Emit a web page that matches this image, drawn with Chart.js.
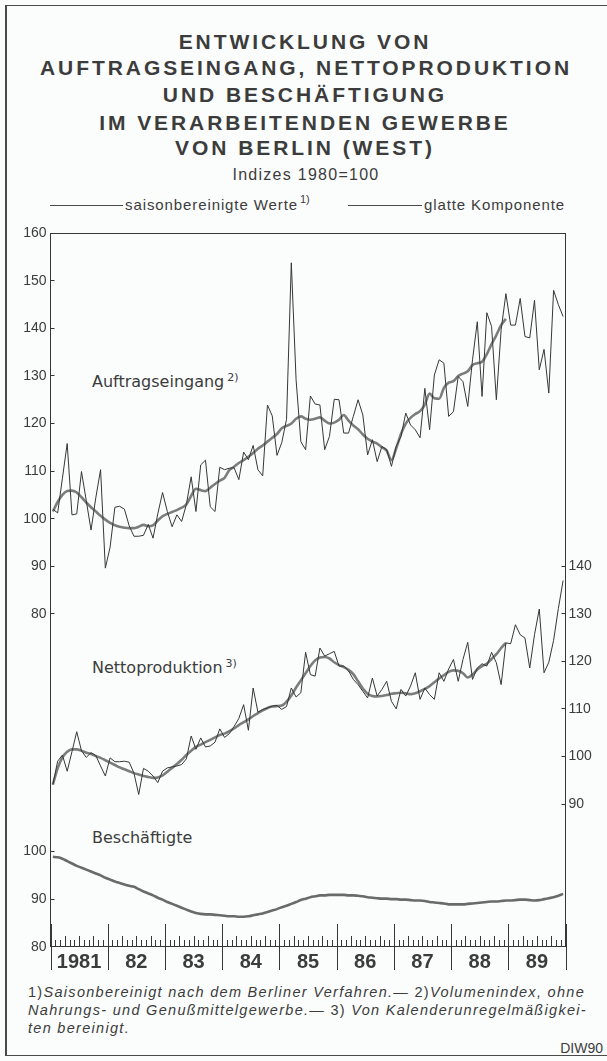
<!DOCTYPE html>
<html><head><meta charset="utf-8">
<script src="https://cdn.jsdelivr.net/npm/chart.js@4.4.0/dist/chart.umd.min.js"></script>
<style>
html,body{margin:0;padding:0;background:#fbfcfc;}
#page{position:relative;width:607px;height:1061px;overflow:hidden;background:#fbfcfc;color:#3c3c3c;font-family:"Liberation Sans",Arial,sans-serif;}
.ln{position:absolute;background:#4a4a4a;}
.t{position:absolute;white-space:nowrap;}
.title{font-weight:bold;font-size:21px;line-height:26px;transform:translateX(-50%);}
.leg{font-size:15px;line-height:18px;}
.ann{font-family:"DejaVu Sans",sans-serif;font-size:16px;line-height:16px;}
.sup{font-size:11px;position:relative;top:-6px;margin-left:3px;font-style:normal;}
.foot{font-style:italic;font-size:14.5px;line-height:18px;left:28px;}
.n{font-style:normal;}
canvas{position:absolute;left:0;top:0;}
</style></head>
<body><div id="page">
<div class="ln" style="left:5px;top:5px;width:1.5px;height:1051px;"></div>
<div class="ln" style="left:5px;top:5px;width:602px;height:1px;"></div>
<div class="ln" style="left:5px;top:1055px;width:602px;height:1px;"></div>

<div class="t title" id="t1" style="left:305px;top:29px;">ENTWICKLUNG VON</div>
<div class="t title" id="t2" style="left:306px;top:55px;">AUFTRAGSEINGANG, NETTOPRODUKTION</div>
<div class="t title" id="t3" style="left:305px;top:82px;">UND BESCHÄFTIGUNG</div>
<div class="t title" id="t4" style="left:305px;top:110px;">IM VERARBEITENDEN GEWERBE</div>
<div class="t title" id="t5" style="left:305px;top:135px;">VON BERLIN (WEST)</div>
<div class="t" id="sub" style="left:306px;top:165px;font-size:16px;line-height:20px;transform:translateX(-50%);">Indizes 1980=100</div>

<div class="ln" style="left:50px;top:205px;width:73px;height:1px;"></div>
<div class="t leg" id="l1" style="left:125px;top:196px;">saisonbereinigte Werte</div>
<div class="t" style="left:300px;top:193px;font-size:11px;">1)</div>
<div class="ln" style="left:348px;top:205px;width:74px;height:1px;"></div>
<div class="t leg" id="l2" style="left:424px;top:196px;">glatte Komponente</div>

<div class="t ann" style="left:92px;top:374px;">Auftragseingang<span class="sup">2)</span></div>
<div class="t ann" style="left:92px;top:660px;">Nettoproduktion<span class="sup">3)</span></div>
<div class="t ann" style="left:92px;top:830px;">Beschäftigte</div>

<div class="t foot" id="f1" style="top:983px;"><span class="n">1)</span>Saisonbereinigt nach dem Berliner Verfahren.— <span class="n">2)</span>Volumenindex, ohne</div>
<div class="t foot" id="f2" style="top:1001px;">Nahrungs- und Genußmittelgewerbe.— <span class="n">3)</span> Von Kalenderunregelmäßigkei-</div>
<div class="t foot" id="f3" style="top:1019px;">ten bereinigt.</div>
<div class="t" style="right:4px;top:1039px;font-size:14px;line-height:18px;">DIW90</div>

<canvas id="c" width="607" height="1061"></canvas>
</div>
<script>
// ---- data (monthly, Jan 1981 .. Dec 1989) ----
const years = ['1981','82','83','84','85','86','87','88','89'];
const leftTicks = [80,90,100,110,120,130,140,150,160];
const rightTicks = [90,100,110,120,130,140];
const beschTicks = [80,90,100];

const auftragRaw = [
 102,101.2,108.5,115.8,100.8,101,109.9,103.8,97.6,104.4,110.3,89.6,
 94,102.4,102.6,102,98.5,96.3,96.3,96.5,98.8,95.9,101,105.5,
 101.5,98.3,100.8,99.4,103,108.8,101.5,111.3,112.3,102.5,101.5,110.8,
 110.3,110.6,110.7,108.2,114,112.4,115.4,110.3,109,123.9,121.6,113.3,
 116,120.9,153.8,129.2,116.2,114.5,125.8,124.1,123.9,114.5,117.3,125.1,
 125,118,118,121.5,125,121.8,113.4,116.6,112,115.2,114.5,111,
 115.2,117.3,122.2,119.7,118.7,117,127.4,118.7,130.2,133.4,132.7,121.5,
 122.5,129.9,128.8,123.6,133.4,141.4,125.7,143.3,140.4,125,139.7,147.3,
 140.7,140.7,146.3,138.3,138,145.9,131.3,135.6,126.4,148,145,142.5];
const auftragGlatt = [
 101.5,103.5,105,105.8,105.9,105.5,104.5,103.4,102.4,101.5,100.6,99.8,
 99.1,98.6,98.3,98.1,98,98,98.3,98.7,98.4,98.6,99.6,100.5,
 101,101.4,101.8,102.3,103,104.8,106.3,106,105.8,106.5,107.3,108,
 108.6,110.2,110.9,111.7,112.3,113,113.8,114.7,115.4,116.2,117,117.8,
 119,119.5,120,121,121.5,121,120.8,121,121.3,120.6,120,120.2,
 120.8,121.8,120.6,119.6,118.8,117.7,116.8,116.2,115.8,115,114.3,112.3,
 114.8,117.8,120,121.2,122,122.6,124,126.3,125.3,125.2,127.5,128.6,
 128.9,130,130.5,131,132.3,132.7,133,134.6,136.7,138.6,140.7,142];
const nettoRaw = [
 94.1,99,100.3,96.9,101,105.2,101.2,99.8,100.8,100.2,98,95.9,
 99.7,98.9,98.9,99,98.8,96.5,92,97.5,96.9,95.9,94.5,96.9,
 97.6,97.8,98,98.3,99.5,104.3,101.5,103.9,102,102.2,103,105.8,
 104,104.8,106.3,108,110.9,105.5,114.4,109.3,109.9,110.2,110.6,110.7,
 109.9,110.5,114.4,112.5,113.4,121.9,117.2,116.9,122.8,121.1,121.6,122.1,
 119,119,118,116.2,115.1,113.7,112.3,116.5,112.7,114.1,115.8,111.6,
 110,114.1,112.7,114.8,117.6,112,114.4,113,112,117.6,115.8,118.4,
 120.4,115.8,120.4,124,116.2,118.6,119.5,119,121.9,119.7,115.1,123.9,
 123.7,127.7,125.6,124.9,118.6,125.6,131,117.6,119.8,124.4,131.1,137];
const nettoGlatt = [
 94.1,97.5,99.8,101,101.5,101.5,101.2,100.8,100.5,100.1,99.7,99.2,
 98.7,98.2,97.7,97.3,96.9,96.5,96.2,95.9,95.7,95.5,95.6,96,
 96.8,97.6,98.4,99.3,100.3,101.2,102,102.5,103,103.5,104,104.5,
 104.8,105.3,105.9,106.6,107.2,107.8,108.5,109.1,109.7,110.2,110.5,110.6,
 110.7,111.5,112.8,114.5,116,117.5,119,120.2,120.8,120.9,120.6,119.8,
 119.2,118.8,118.2,117.3,115.8,114.3,113.2,112.7,112.6,112.7,112.9,113.2,
 113.3,113.4,113.3,113.1,113.3,113.7,114.2,114.8,115.6,116.4,117.1,117.8,
 118.1,118,117.5,116.6,117.2,118.3,119,119.5,120.5,121.5,122.8,123.9];
const beschaeftigte = [
 98.9,98.8,98.5,98,97.5,97,96.6,96.2,95.8,95.4,95,94.5,
 94.1,93.7,93.4,93.1,92.8,92.6,92.1,91.6,91.2,90.8,90.3,89.9,
 89.4,89,88.6,88.2,87.8,87.4,87.1,86.9,86.8,86.8,86.7,86.6,
 86.5,86.4,86.4,86.3,86.3,86.4,86.6,86.8,87,87.3,87.6,87.9,
 88.3,88.6,89,89.4,89.8,90.1,90.4,90.6,90.8,90.8,90.9,90.9,
 90.9,90.9,90.8,90.8,90.7,90.6,90.4,90.3,90.2,90.1,90.1,90,
 90,89.9,89.9,89.8,89.7,89.7,89.6,89.4,89.3,89.2,89.1,88.9,
 88.9,88.9,88.9,89,89.1,89.2,89.3,89.4,89.5,89.5,89.6,89.7,
 89.7,89.8,89.9,89.9,89.8,89.7,89.8,90,90.2,90.4,90.7,91.1];

// ---- text fitting (letter-spacing) ----
function fit(id, w){
  const el=document.getElementById(id); el.style.letterSpacing='0px';
  const w0=el.getBoundingClientRect().width; const n=el.textContent.length;
  const ls=(w-w0)/n; el.style.letterSpacing=ls+'px'; return ls;
}
const tls=fit('t2',532);
['t1','t3','t4','t5'].forEach(id=>{document.getElementById(id).style.letterSpacing=tls+'px';});
fit('sub',147); fit('l1',173); fit('l2',141);
const fls=fit('f1',557);
['f2','f3'].forEach(id=>{document.getElementById(id).style.letterSpacing=fls+'px';});

// ---- chart ----
const pts = arr => arr.map((v,i)=>({x:i+0.5,y:v}));
const INK='#363636', SMOOTH='#7c7c7c';
const CH=1061, BOTTOM=946.7, TOP=233.3, LEFT=50.5, RIGHT=565.5;

const decor={id:'decor',
 afterLayout(chart){ const s=chart.scales.yB; if(s){ s.left=0; } },
 afterDraw(chart){
  const {ctx,chartArea:a,scales:{x}}=chart;
  ctx.save(); ctx.strokeStyle=INK; ctx.lineWidth=1;
  ctx.beginPath(); ctx.moveTo(a.left,Math.round(a.top)+0.5); ctx.lineTo(a.right,Math.round(a.top)+0.5); ctx.stroke();
  const yb=Math.round(a.bottom);
  for(let m=0;m<=108;m++){
    const px=Math.round(x.getPixelForValue(m))+0.5;
    let y1,y2;
    if(m%12===0){y1=yb-23;y2=yb+23;}
    else if(m%3===0){y1=yb-11;y2=yb;}
    else {y1=yb-7;y2=yb;}
    ctx.beginPath(); ctx.moveTo(px,y1); ctx.lineTo(px,y2); ctx.stroke();
  }
  ctx.restore();
}};

const yTicksFont={family:"'Liberation Sans',Arial,sans-serif",size:14};
new Chart(document.getElementById('c'),{
  type:'line',
  data:{datasets:[
    {data:pts(auftragRaw),yAxisID:'yA',borderColor:INK,borderWidth:1,pointRadius:0,tension:0},
    {data:pts(auftragGlatt),yAxisID:'yA',borderColor:SMOOTH,borderWidth:2.6,pointRadius:0,cubicInterpolationMode:'monotone'},
    {data:pts(nettoRaw),yAxisID:'yN',borderColor:INK,borderWidth:1,pointRadius:0,tension:0},
    {data:pts(nettoGlatt),yAxisID:'yN',borderColor:SMOOTH,borderWidth:2.6,pointRadius:0,cubicInterpolationMode:'monotone'},
    {data:pts(beschaeftigte),yAxisID:'yB',borderColor:'#6a6a6a',borderWidth:2.6,pointRadius:0,cubicInterpolationMode:'monotone'}
  ]},
  options:{
    responsive:false,animation:false,events:[],
    layout:{padding:{top:TOP,left:0,right:0,bottom:0}},
    plugins:{legend:{display:false},tooltip:{enabled:false}},
    scales:{
      x:{type:'linear',min:0,max:108,position:'bottom',
        afterBuildTicks:s=>{s.ticks=years.map((y,i)=>({value:12*i+6}));},
        ticks:{callback:(v,i)=>years[i],autoSkip:false,maxRotation:0,padding:4,color:'#3c3c3c',
          font:{family:"'Liberation Sans',Arial,sans-serif",size:20,weight:'bold'}},
        grid:{display:false,drawTicks:false},border:{display:true,color:INK,width:1},
        afterFit:s=>{s.height=CH-BOTTOM;}},
      yA:{position:'left',weight:1,min:10,max:160,
        afterBuildTicks:s=>{s.ticks=leftTicks.map(v=>({value:v}));},
        ticks:{font:yTicksFont,color:'#3c3c3c',padding:8},
        grid:{drawOnChartArea:false,drawTicks:true,tickLength:-4,color:INK},
        border:{display:true,color:INK,width:1},
        afterFit:s=>{s.width=LEFT;}},
      yB:{position:'left',weight:0,min:80,max:230,
        afterBuildTicks:s=>{s.ticks=beschTicks.map(v=>({value:v}));},
        ticks:{font:yTicksFont,color:'#3c3c3c',padding:8},
        grid:{drawOnChartArea:false,drawTicks:true,tickLength:-4,color:INK},
        border:{display:false},
        afterFit:s=>{s.width=0;}},
      yN:{position:'right',min:60,max:210,
        afterBuildTicks:s=>{s.ticks=rightTicks.map(v=>({value:v}));},
        ticks:{font:yTicksFont,color:'#3c3c3c',padding:7},
        grid:{drawOnChartArea:false,drawTicks:true,tickLength:-4,color:INK},
        border:{display:true,color:INK,width:1},
        afterFit:s=>{s.width=607-RIGHT;}}
    }
  },
  plugins:[decor]
});
</script>
</body></html>
